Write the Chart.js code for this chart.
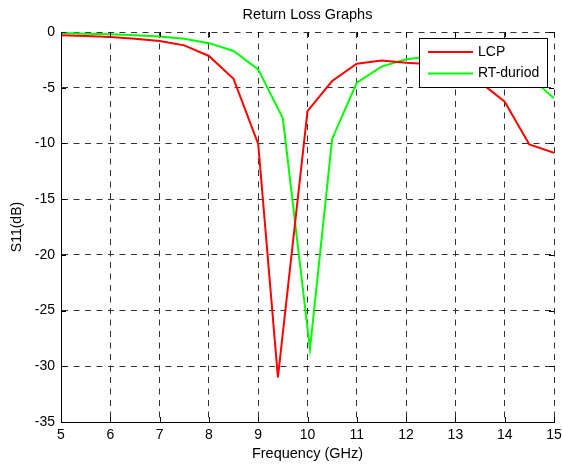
<!DOCTYPE html>
<html>
<head>
<meta charset="utf-8">
<title>Return Loss Graphs</title>
<script src="https://cdn.jsdelivr.net/npm/chart.js@4.4.1/dist/chart.umd.min.js"></script>
<style>
html, body { margin: 0; padding: 0; background: #fff; }
#wrap { width: 562px; height: 467px; }
</style>
</head>
<body>
<div id="wrap"><canvas id="rlChart" width="562" height="467"></canvas></div>
<script>
// values (frequency in GHz, S11 in dB)
const lcpFreq = [5, 5.5, 6, 6.5, 7, 7.5, 8, 8.5, 9, 9.4, 10, 10.5, 11, 11.5, 12, 12.5, 13, 13.5, 14, 14.5, 15];
const lcpS11 = [-0.3, -0.35, -0.45, -0.6, -0.8, -1.2, -2.15, -4.2, -10.05, -31.0, -7.1, -4.4, -2.85, -2.55, -2.75, -2.9, -3.3, -4.5, -6.25, -10.1, -10.85];

const rtFreq = [5, 5.5, 6, 6.5, 7, 7.5, 8, 8.5, 9, 9.5, 10.05, 10.5, 11, 11.5, 12, 12.5, 13, 13.5, 14, 14.5, 15];
const rtS11 = [-0.1, -0.15, -0.2, -0.3, -0.4, -0.6, -1.0, -1.7, -3.35, -7.75, -28.45, -9.6, -4.55, -3.1, -2.45, -2.2, -2.2, -2.5, -3.1, -4.0, -5.95];

const xTicks = [5, 6, 7, 8, 9, 10, 11, 12, 13, 14, 15];
const yTicks = [0, -5, -10, -15, -20, -25, -30, -35];

const fontFamily = "'Liberation Sans', Arial, Helvetica, sans-serif";
Chart.defaults.font.family = fontFamily;
Chart.defaults.font.size = 14;
Chart.defaults.color = '#000';

const toPoints = (xs, ys) => xs.map((x, i) => ({ x: x, y: ys[i] }));

// small inward tick marks on all four sides, like the matlab axes box
const innerTicks = {
    id: 'innerTicks',
    afterDatasetsDraw(chart) {
        const { ctx, chartArea: a, scales } = chart;
        const len = 5;
        ctx.save();
        ctx.strokeStyle = '#000';
        ctx.lineWidth = 1;
        ctx.beginPath();
        xTicks.forEach(v => {
            const px = Math.round(scales.x.getPixelForValue(v)) + 0.5;
            ctx.moveTo(px, a.bottom); ctx.lineTo(px, a.bottom - len);
            ctx.moveTo(px, a.top); ctx.lineTo(px, a.top + len);
        });
        yTicks.forEach(v => {
            const py = Math.round(scales.y.getPixelForValue(v)) + 0.5;
            ctx.moveTo(a.left, py); ctx.lineTo(a.left + len, py);
            ctx.moveTo(a.right, py); ctx.lineTo(a.right - len, py);
        });
        ctx.stroke();
        ctx.restore();
    }
};

// boxed legend inside the top right corner of the plot
const boxLegend = {
    id: 'boxLegend',
    afterDraw(chart) {
        const { ctx, chartArea: a } = chart;
        const w = 128, h = 49;
        const x = a.right - 7 - w, y = a.top + 6;
        ctx.save();
        ctx.fillStyle = '#fff';
        ctx.fillRect(x, y, w, h);
        ctx.strokeStyle = '#000';
        ctx.lineWidth = 1;
        ctx.strokeRect(Math.round(x) + 0.5, Math.round(y) + 0.5, w, h);
        ctx.font = '14px ' + fontFamily;
        ctx.textBaseline = 'middle';
        ctx.textAlign = 'left';
        chart.data.datasets.forEach((ds, i) => {
            const ry = y + 14 + i * 21.5;
            ctx.strokeStyle = ds.borderColor;
            ctx.lineWidth = 2;
            ctx.beginPath();
            ctx.moveTo(x + 9, ry);
            ctx.lineTo(x + 54, ry);
            ctx.stroke();
            ctx.fillStyle = '#000';
            ctx.fillText(ds.label, x + 59, ry);
        });
        ctx.restore();
    }
};

const chart = new Chart(document.getElementById('rlChart'), {
    type: 'line',
    data: {
        datasets: [
            { label: 'LCP', data: toPoints(lcpFreq, lcpS11), borderColor: '#ff0000', borderWidth: 2, pointRadius: 0, tension: 0, fill: false },
            { label: 'RT-duriod', data: toPoints(rtFreq, rtS11), borderColor: '#00ff00', borderWidth: 2, pointRadius: 0, tension: 0, fill: false }
        ]
    },
    options: {
        responsive: false,
        animation: false,
        events: [],
        layout: { padding: { left: 0, right: 8, top: 0, bottom: 0 } },
        plugins: {
            legend: { display: false },
            tooltip: { enabled: false },
            title: {
                display: true,
                text: 'Return Loss Graphs',
                fullSize: false,
                color: '#000',
                font: { size: 14.5, weight: 'normal' },
                padding: { top: 6, bottom: 8.6 }
            }
        },
        scales: {
            x: {
                type: 'linear',
                min: 5, max: 15,
                afterBuildTicks: s => { s.ticks = xTicks.map(v => ({ value: v })); },
                afterFit: s => { s.height = 45; s.paddingLeft = 0; s.paddingRight = 0; },
                ticks: { padding: 5, color: '#000', font: { size: 14 } },
                grid: { color: '#333', lineWidth: 1, drawTicks: false },
                border: { display: true, color: '#000', width: 1, dash: [6, 5.5] },
                title: { display: true, text: 'Frequency (GHz)', color: '#000', font: { size: 14.5 }, padding: { top: 5 } }
            },
            y: {
                type: 'linear',
                min: -35, max: 0,
                afterBuildTicks: s => { s.ticks = yTicks.map(v => ({ value: v })); },
                afterFit: s => { s.width = 61; },
                ticks: { padding: 6, color: '#000', font: { size: 14 } },
                grid: { color: '#333', lineWidth: 1, drawTicks: false },
                border: { display: true, color: '#000', width: 1, dash: [6, 5.5] },
                title: { display: true, text: 'S11(dB)', color: '#000', font: { size: 14 }, padding: { top: 9 } }
            }
        }
    },
    plugins: [innerTicks, boxLegend]
});
</script>
</body>
</html>
